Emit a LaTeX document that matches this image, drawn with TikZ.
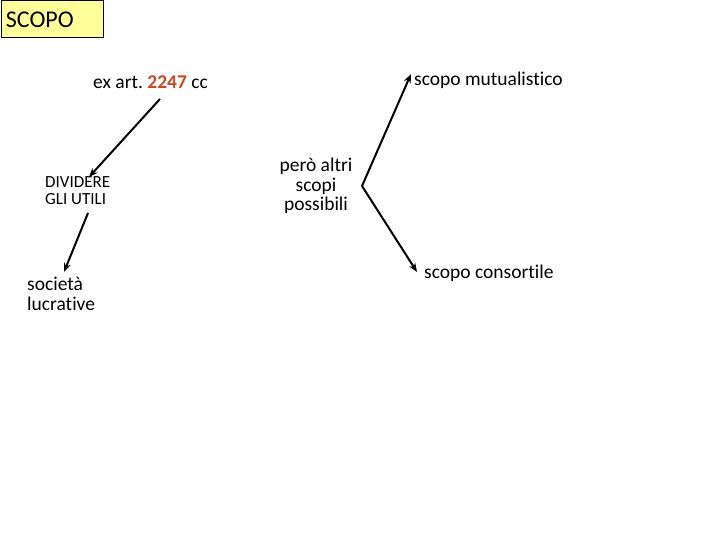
\documentclass[tikz,border=0pt]{standalone}
\usepackage{fontspec}
\setmainfont[Ligatures=NoCommon]{Carlito}
\usetikzlibrary{arrows.meta}
\definecolor{boxyellow}{RGB}{255,255,153}
\definecolor{numred}{RGB}{210,70,30}
\frenchspacing
\begin{document}
\begin{tikzpicture}[x=1pt,y=-1pt,
  lbl/.style={inner sep=0pt,font=\fontsize{19.5}{19.5}\selectfont},
  conn/.style={line width=2pt,-{Stealth[length=9pt,width=7pt]}}]
\useasboundingbox (0,0) rectangle (720,540);
\node[draw=black,line width=0.8pt,fill=boxyellow,anchor=north west,minimum width=102pt,minimum height=37pt,
  inner sep=0pt,text width=98pt,align=left,font=\fontsize{24}{24}\selectfont] (scopo) at (0.5,0.5) {\hspace{3pt}SCOPO};
\node[lbl,anchor=west] (art) at (93,82) {ex art. \textcolor{numred}{\textbf{2247}} cc};
\node[lbl,anchor=north west,align=left,font=\fontsize{17}{17.5}\selectfont] (div) at (45,176) {DIVIDERE\\GLI UTILI};
\node[lbl,anchor=north west,align=left] (soc) at (27,277) {società\\lucrative};
\node[lbl,align=center] (pero) at (316,186) {però altri\\scopi\\possibili};
\node[lbl,anchor=west] (mut) at (414,80) {scopo mutualistico};
\node[lbl,anchor=west] (cons) at (424,273) {scopo consortile};
\coordinate (v) at (362,186);
\coordinate (a1) at (160,99);
\coordinate (a2) at (89,177);
\coordinate (b1) at (88,213);
\coordinate (b2) at (64,272);
\coordinate (m) at (411,74);
\coordinate (c) at (417,272);
\draw[conn] (a1) -- (a2);
\draw[conn] (b1) -- (b2);
\draw[conn] (v) -- (m);
\draw[conn] (v) -- (c);
\end{tikzpicture}
\end{document}
